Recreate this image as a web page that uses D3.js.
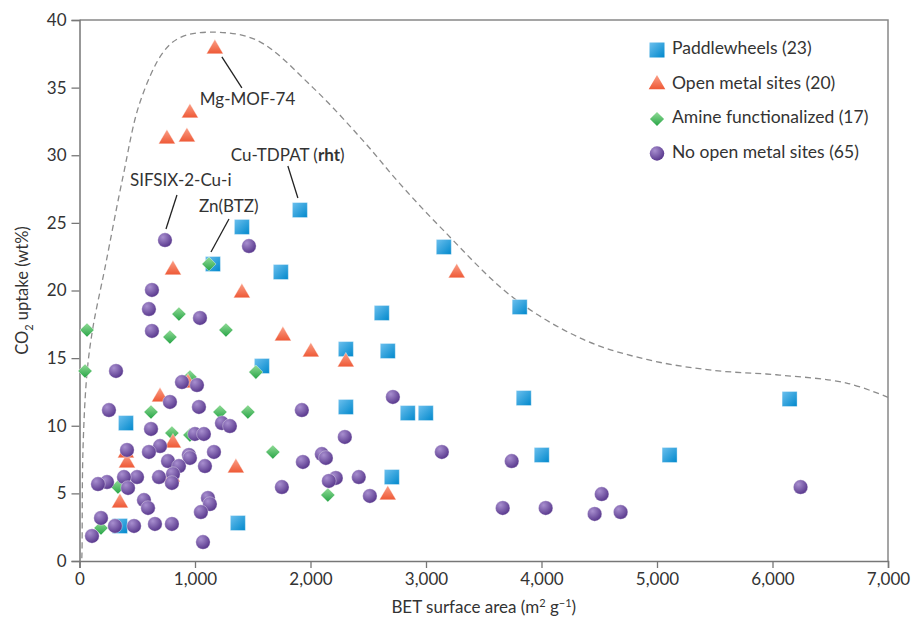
<!DOCTYPE html>
<html>
<head>
<meta charset="utf-8">
<script src="https://cdn.jsdelivr.net/npm/d3@7/dist/d3.min.js"></script>
<style>
  body { margin: 0; background: #fff; }
  svg text { font-family: Lato, "Open Sans", sans-serif; fill: #333; }
</style>
</head>
<body>
<svg id="chart" width="913" height="623"></svg>
<script>
// BET surface area (m2/g), CO2 uptake (wt%)
const paddlewheels = [
  [1908, 25.95], [1406, 24.7], [1155, 21.96], [1743, 21.37], [1579, 14.42],
  [402, 10.2], [350, 2.59], [1371, 2.81], [3154, 23.22], [2617, 18.34],
  [2306, 15.67], [2669, 15.53], [3811, 18.78], [3846, 12.05], [2306, 11.39],
  [2842, 10.94], [2998, 10.94], [2704, 6.21], [4002, 7.84], [5109, 7.84],
  [6148, 11.98]
];
const openMetal = [
  [1172, 37.86], [956, 33.12], [757, 31.2], [930, 31.35], [809, 21.52],
  [1406, 19.82], [1761, 16.64], [2003, 15.45], [697, 12.13], [939, 13.16],
  [809, 8.72], [411, 7.25], [402, 7.99], [350, 4.29], [1354, 6.88],
  [800, 6.21], [3266, 21.29], [2306, 14.71], [2669, 4.88]
];
const amine = [
  [1121, 21.96], [861, 18.26], [65, 17.08], [783, 16.56], [1268, 17.08],
  [48, 14.05], [1527, 13.97], [956, 13.6], [619, 11.02], [1216, 11.02],
  [1458, 11.02], [800, 9.46], [956, 9.32], [1674, 8.06], [333, 5.47],
  [186, 2.44], [2150, 4.88]
];
const noOpenMetal = [
  [740, 23.73], [1467, 23.29], [627, 20.04], [601, 18.63], [1043, 17.97],
  [627, 17.01], [316, 14.05], [887, 13.23], [1017, 13.01], [783, 11.76],
  [1034, 11.39], [255, 11.16], [1925, 11.16], [619, 9.76], [1233, 10.2],
  [1302, 9.98], [999, 9.39], [1077, 9.39], [697, 8.5], [411, 8.21],
  [601, 8.06], [1164, 8.06], [766, 7.39], [947, 7.84], [956, 7.62],
  [861, 7.02], [1086, 7.02], [809, 6.43], [800, 5.77], [688, 6.21],
  [498, 6.21], [385, 6.21], [238, 5.84], [160, 5.69], [420, 5.4],
  [558, 4.51], [593, 3.92], [1112, 4.66], [1129, 4.21], [1051, 3.62],
  [186, 3.18], [307, 2.59], [472, 2.59], [653, 2.74], [800, 2.74],
  [108, 1.85], [1069, 1.4],
  [2713, 12.13], [2297, 9.17], [2098, 7.91], [2133, 7.62], [1934, 7.32],
  [3137, 8.06], [3742, 7.39], [2219, 6.14], [2159, 5.92], [2418, 6.21],
  [1752, 5.47], [2514, 4.81], [3664, 3.92], [4036, 3.92], [4521, 4.95],
  [4460, 3.48], [4685, 3.62], [6243, 5.47]
];
// dashed upper envelope
const envelope = [
  [20, 0.2], [22, 0.81], [30, 8.2], [65, 13.9], [117, 17.3], [221, 21.7],
  [376, 28.4], [523, 33.9], [723, 37.6], [870, 38.7], [1129, 39.1],
  [1536, 38.5], [2021, 35.0], [2453, 31.1], [2773, 27.9], [3145, 24.5],
  [3751, 19.5], [4357, 16.4], [4911, 14.9], [5482, 14.1], [6061, 13.75],
  [6641, 13.16], [7000, 12.1]
];
const legendLabels = ['Paddlewheels (23)', 'Open metal sites (20)', 'Amine functionalized (17)', 'No open metal sites (65)'];
const xTicks = [0, 1000, 2000, 3000, 4000, 5000, 6000, 7000];
const yTicks = [0, 5, 10, 15, 20, 25, 30, 35, 40];
const annotations = [
  { label: 'Mg-MOF-74', x: 1172, y: 37.86 },
  { label: 'Cu-TDPAT', bold: 'rht', x: 1908, y: 25.95 },
  { label: 'SIFSIX-2-Cu-i', x: 740, y: 23.73 },
  { label: 'Zn(BTZ)', x: 1121, y: 21.96 }
];

const width = 913, height = 623;
const margin = { top: 20, right: 25, bottom: 62, left: 79.5 };
const svg = d3.select('#chart');

const x = d3.scaleLinear().domain([0, 7000]).range([margin.left, width - margin.right]);
const y = d3.scaleLinear().domain([0, 40]).range([height - margin.bottom, margin.top]);

// gradients
const defs = svg.append('defs');
function linGrad(id, x2, y2, c1, c2) {
  const g = defs.append('linearGradient').attr('id', id)
    .attr('x1', 0).attr('y1', 0).attr('x2', x2).attr('y2', y2);
  g.append('stop').attr('offset', '0%').attr('stop-color', c1);
  g.append('stop').attr('offset', '100%').attr('stop-color', c2);
}
linGrad('gSquare', 1, 1, '#6cc0ee', '#0088cc');
linGrad('gTri', 0, 1, '#fba088', '#ee5835');
linGrad('gDia', 1, 1, '#93dc98', '#26a445');
const rg = defs.append('radialGradient').attr('id', 'gCirc')
  .attr('cx', '35%').attr('cy', '30%').attr('r', '75%');
rg.append('stop').attr('offset', '0%').attr('stop-color', '#a88fcf');
rg.append('stop').attr('offset', '100%').attr('stop-color', '#55348a');

const shapes = {
  square: { path: d3.symbol(d3.symbolSquare, 225)(), fill: 'url(#gSquare)', rot: 0 },
  tri: { path: d3.symbol(d3.symbolTriangle, 120)(), fill: 'url(#gTri)', rot: 0 },
  dia: { path: d3.symbol(d3.symbolSquare, 100)(), fill: 'url(#gDia)', rot: 45 },
  circ: { path: d3.symbol(d3.symbolCircle, 165)(), fill: 'url(#gCirc)', rot: 0 }
};

// frame
svg.append('path')
  .attr('d', `M${x(0)},${y(40)}H${x(7000)}V${y(0)}`)
  .attr('fill', 'none').attr('stroke', '#888').attr('stroke-width', 1.5);

// axes
const xAxis = svg.append('g')
  .attr('transform', `translate(0,${y(0)})`)
  .call(d3.axisBottom(x).tickValues(xTicks).tickSizeOuter(0).tickSize(7).tickPadding(5)
    .tickFormat(d3.format(',')));
const yAxis = svg.append('g')
  .attr('transform', `translate(${x(0)},0)`)
  .call(d3.axisLeft(y).tickValues(yTicks).tickSizeOuter(0).tickSize(8).tickPadding(5));
[xAxis, yAxis].forEach(a => {
  a.select('.domain').attr('stroke', '#777').attr('stroke-width', 1.5);
  a.selectAll('.tick line').attr('stroke', '#777').attr('stroke-width', 1.3);
  a.selectAll('.tick text').style('font-size', '17px').attr('fill', '#333');
});

// envelope
svg.append('path')
  .datum(envelope)
  .attr('fill', 'none')
  .attr('stroke', '#8c8c8c')
  .attr('stroke-width', 1.3)
  .attr('stroke-dasharray', '6,4')
  .attr('d', d3.line().x(d => x(d[0])).y(d => y(d[1])).curve(d3.curveCatmullRom.alpha(0.5)));

function drawSeries(data, shape) {
  const s = shapes[shape];
  svg.append('g').selectAll('path')
    .data(data)
    .enter()
    .append('path')
    .attr('d', s.path)
    .attr('transform', d => `translate(${x(d[0])},${y(d[1])}) rotate(${s.rot})`)
    .attr('fill', s.fill)
    .attr('stroke', '#fff')
    .attr('stroke-opacity', 0.6)
    .attr('stroke-width', 0.6);
}
drawSeries(paddlewheels, 'square');
drawSeries(amine, 'dia');
drawSeries(openMetal, 'tri');
drawSeries(noOpenMetal, 'circ');

// annotations: leader line offsets and text offsets in px from the point
const annoLayout = [
  { l: [7, 8, 27, 39], t: [-15, 52] },
  { l: [-2, -12, -12, -44], t: [-69, -53] },
  { l: [1, -11, 12, -45], t: [-35, -58] },
  { l: [2, -12, 20, -45], t: [-10, -56] }
];
annotations.forEach((a, i) => {
  const px = x(a.x), py = y(a.y), L = annoLayout[i];
  svg.append('line')
    .attr('x1', px + L.l[0]).attr('y1', py + L.l[1])
    .attr('x2', px + L.l[2]).attr('y2', py + L.l[3])
    .attr('stroke', '#222').attr('stroke-width', 1.3);
  const t = svg.append('text')
    .attr('x', px + L.t[0]).attr('y', py + L.t[1])
    .attr('dominant-baseline', 'middle')
    .style('font-size', '17px');
  t.append('tspan').text(a.label);
  if (a.bold) {
    t.append('tspan').text(' (');
    t.append('tspan').style('font-weight', 'bold').text(a.bold);
    t.append('tspan').text(')');
  }
});

// legend
const legendShapes = ['square', 'tri', 'dia', 'circ'];
const legend = svg.append('g').attr('transform', 'translate(657,50)');
legendLabels.forEach((lab, i) => {
  const s = shapes[legendShapes[i]];
  const row = legend.append('g').attr('transform', `translate(0,${i * 34.5})`);
  row.append('path').attr('d', s.path)
    .attr('transform', `rotate(${s.rot})`)
    .attr('fill', s.fill);
  row.append('text').attr('x', 15).attr('y', 0)
    .attr('dominant-baseline', 'middle')
    .style('font-size', '17.5px')
    .text(lab);
});

// axis titles
const xt = svg.append('text')
  .attr('x', (x(0) + x(7000)) / 2).attr('y', 613)
  .attr('text-anchor', 'middle').style('font-size', '17px');
xt.append('tspan').text('BET surface area (m');
xt.append('tspan').attr('dy', -6).style('font-size', '11px').text('2');
xt.append('tspan').attr('dy', 6).text(' g');
xt.append('tspan').attr('dy', -6).style('font-size', '11px').text('\u22121');
xt.append('tspan').attr('dy', 6).text(')');

const yt = svg.append('text')
  .attr('transform', `translate(28,${(y(0) + y(40)) / 2}) rotate(-90)`)
  .attr('text-anchor', 'middle').style('font-size', '16.5px');
yt.append('tspan').text('CO');
yt.append('tspan').attr('dy', 5).style('font-size', '11px').text('2');
yt.append('tspan').attr('dy', -5).text(' uptake (wt%)');
</script>
</body>
</html>
